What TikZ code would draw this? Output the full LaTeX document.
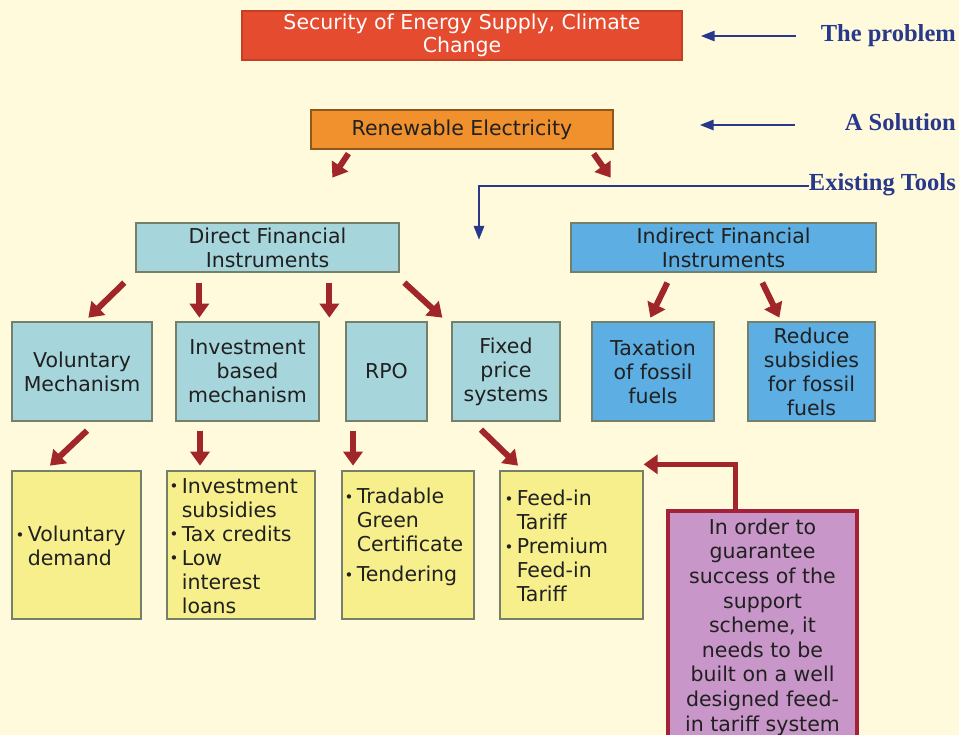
\documentclass[tikz,border=0pt]{standalone}
\usepackage{fontspec}
\setmainfont{DejaVu Sans}
\newfontfamily\labelfont{Liberation Serif}
\usetikzlibrary{arrows.meta,calc}
\definecolor{bg}{HTML}{FFFADC}
\definecolor{redbox}{HTML}{E54B2E}
\definecolor{orangebox}{HTML}{F0912E}
\definecolor{lightblue}{HTML}{A6D5DC}
\definecolor{midblue}{HTML}{5DAEE3}
\definecolor{yellowbox}{HTML}{F7EF8C}
\definecolor{purplebox}{HTML}{C896C8}
\definecolor{crimson}{HTML}{A3223A}
\definecolor{arrowred}{HTML}{A0262A}
\definecolor{navy}{HTML}{28388A}
\definecolor{boxline}{HTML}{74806C}
\definecolor{textc}{HTML}{202020}
\newcommand\bul{{\fontsize{15}{15}\selectfont\raisebox{1.5pt}{•}}}
\newcommand\ind{\hphantom{\bul\,}}
\begin{document}
\begin{tikzpicture}[x=1pt,y=-1pt,
  font=\fontsize{20.5}{24}\selectfont,
  wh/.style 2 args={minimum width=#1, minimum height=#2},
  box/.style={draw=boxline, line width=1.3pt, inner sep=1pt, align=center, text=textc},
  txt/.style={inner sep=0pt, text=textc, align=left, anchor=west},
  blk/.style={draw=arrowred, line width=6pt, -{Triangle[width=19pt,length=14pt]}},
  navyarr/.style={draw=navy, line width=2.8pt, -{Triangle[width=10pt,length=14pt]}},
  sidelabel/.style={font=\labelfont\bfseries\fontsize{24.5}{26}\selectfont, text=navy, anchor=east, inner sep=0pt},
  elbow/.style={draw=arrowred, line width=5pt, -{Triangle[width=19pt,length=14pt]}}]
\fill[bg] (0,0) rectangle (959,735);
\useasboundingbox (0,0) rectangle (959,735);

% top boxes
\node[box, draw=redbox!85!black, fill=redbox, text=white, wh={440pt}{49pt}] (red) at (462,35.5)
  {Security of Energy Supply, Climate\\[-1pt]Change};
\node[box, draw=orangebox!60!black, fill=orangebox, wh={302pt}{39pt}] (re) at (462,129.5)
  {Renewable Electricity};

% side labels
\node[sidelabel] (lp) at (956,36) {The problem};
\node[sidelabel] (ls) at (956,122) {A Solution};
\node[sidelabel] (lt) at (956,185) {Existing Tools};

\draw[navyarr] ($(lp.west)+(-25,0)$) -- ($(red.east)+(18,0.5)$);
\draw[navyarr] ($(ls.west)+(-50,3)$) -- ++(-95,0);
\draw[navyarr] ($(lt.west)+(0,1)$) -| (479,240);

% second level
\node[box, fill=lightblue, wh={263pt}{49pt}] (dfi) at (267.5,247.5)
  {Direct Financial\\Instruments};
\node[box, fill=midblue, wh={305pt}{49pt}] (ifi) at (723.5,247.5)
  {Indirect Financial\\Instruments};

\draw[blk] ($(re.south west)+(38,4)$) -- ++(-16,24);
\draw[blk] ($(re.south east)+(-20,4)$) -- ++(17,24);

% third level
\node[box, fill=lightblue, wh={140pt}{99pt}] (vm) at (82,371.5) {Voluntary\\Mechanism};
\node[box, fill=lightblue, wh={143pt}{99pt}] (ib) at (247.5,371.5) {Investment\\based\\mechanism};
\node[box, fill=lightblue, wh={81pt}{99pt}] (rpo) at (386.5,371.5) {RPO};
\node[box, fill=lightblue, wh={108pt}{99pt}] (fp) at (506,371.5) {Fixed\\price\\systems};
\node[box, fill=midblue, wh={122pt}{99pt}] (tx) at (653,371.5) {Taxation\\of fossil\\fuels};
\node[box, fill=midblue, wh={127pt}{99pt}] (rs) at (811.5,371.5) {Reduce\\subsidies\\for fossil\\fuels};

\draw[blk] ($(dfi.south west)+(-11,10)$) -- ++(-36,35);
\draw[blk] ($(dfi.south west)+(64,10)$) -- ++(0,35);
\draw[blk] ($(dfi.south west)+(194,10)$) -- ++(0,35);
\draw[blk] ($(dfi.south west)+(269,10)$) -- ++(38,35);
\draw[blk] ($(ifi.south west)+(97,10)$) -- ++(-17,35);
\draw[blk] ($(ifi.south west)+(192,10)$) -- ++(17,35);

% fourth level
\node[box, fill=yellowbox, wh={129pt}{148pt}] (y1) at (76.5,545) {};
\node[txt] (y1t) at ($(y1.west)+(4,1)$) {\bul\,Voluntary\\\ind demand};
\node[box, fill=yellowbox, wh={148pt}{148pt}] (y2) at (241,545) {};
\node[txt] (y2t) at ($(y2.west)+(3,1)$)
  {\bul\,Investment\\\ind subsidies\\\bul\,Tax credits\\\bul\,Low\\\ind interest\\\ind loans};
\node[box, fill=yellowbox, wh={132pt}{148pt}] (y3) at (408,545) {};
\node[txt] (y3t) at ($(y3.west)+(3,-8)$)
  {\bul\,Tradable\\\ind Green\\\ind Certificate\\[6pt]\bul\,Tendering};
\node[box, fill=yellowbox, wh={143pt}{148pt}] (y4) at (571.5,545) {};
\node[txt] (y4t) at ($(y4.west)+(5,1)$)
  {\bul\,Feed-in\\\ind Tariff\\\bul\,Premium\\\ind Feed-in\\\ind Tariff};

\draw[blk] ($(vm.south)+(5,9)$) -- ++(-37,35);
\draw[blk] ($(ib.south)+(-47.5,9)$) -- ++(0,35);
\draw[blk] ($(rpo.south)+(-33.5,9)$) -- ++(0,35);
\draw[blk] ($(fp.south)+(-25,8)$) -- ++(37,36);

% purple note
\node[box, draw=crimson, line width=4pt, fill=purplebox, wh={189pt}{232pt}, font=\fontsize{20.5}{24.6}\selectfont] (pp) at (762.5,627)
  {In order to\\guarantee\\success of the\\support\\scheme, it\\needs to be\\built on a well\\designed feed-\\in tariff system};
\draw[elbow] ([xshift=-27.5pt]pp.north) |- ($(y4.north east)+(0,-6)$);
\end{tikzpicture}
\end{document}
